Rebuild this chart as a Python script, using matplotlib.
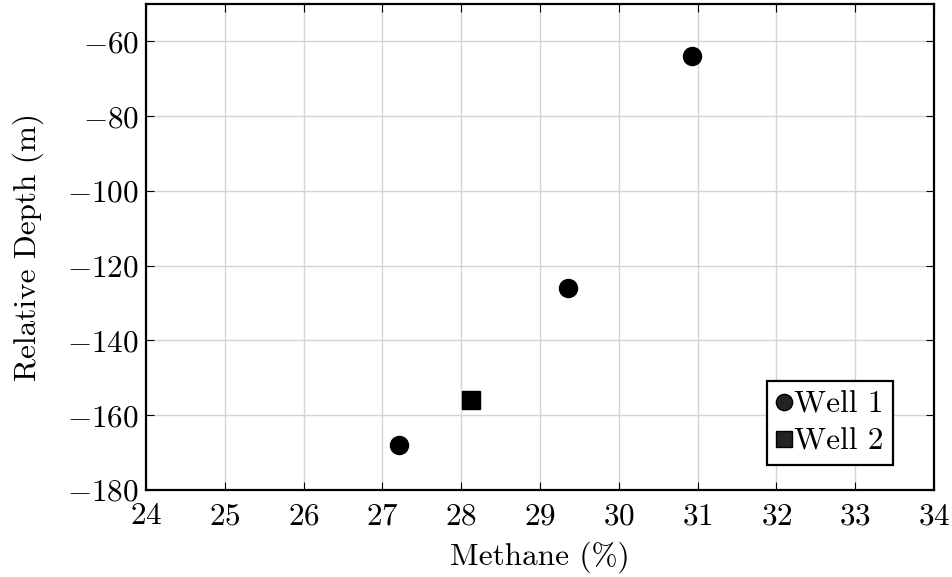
import matplotlib
matplotlib.use('Agg')
import matplotlib.pyplot as plt

# data
well1_methane = [27.21, 29.35, 30.93]
well1_depth = [-168, -126, -64]
well2_methane = [28.12]
well2_depth = [-156]

xticks = list(range(24, 35))
yticks = [-180, -160, -140, -120, -100, -80, -60]

plt.rcParams['font.family'] = 'serif'
plt.rcParams['font.serif'] = ['cmr10']
plt.rcParams['mathtext.fontset'] = 'cm'
plt.rcParams['axes.formatter.use_mathtext'] = True

fig = plt.figure(figsize=(9.52, 5.77), dpi=100)
ax = fig.add_axes([146/952, 87/577, 788/952, 486/577])

ax.plot(well1_methane, well1_depth, 'o', color='black', markersize=13, label='Well 1', zorder=3)
ax.plot(well2_methane, well2_depth, 's', color='black', markersize=12.5, label='Well 2', zorder=3)

ax.set_xlim(24, 34)
ax.set_ylim(-180, -50)
ax.set_xticks(xticks)
ax.set_yticks(yticks)
ax.grid(True, color='#d4d4d4', linewidth=1)
ax.set_axisbelow(True)
for s in ax.spines.values():
    s.set_linewidth(1.6)
ax.tick_params(axis='both', which='major', labelsize=22.5, direction='in', length=6,
               width=0.8, top=True, right=True, pad=5)
ax.tick_params(axis='x', pad=9)

ax.set_xlabel('Methane (%)', fontsize=22.5, labelpad=8)
ax.set_ylabel('Relative Depth (m)', fontsize=22.5, labelpad=17)

leg = ax.legend(loc='lower right', fontsize=22.5, frameon=True, fancybox=False,
                edgecolor='black', framealpha=1, handlelength=0.5, handletextpad=0.08,
                borderpad=0.3, labelspacing=0.3, markerscale=0.9, borderaxespad=0,
                bbox_to_anchor=(0.948, 0.051))
leg.get_frame().set_linewidth(1.6)
for h in leg.legend_handles:
    h.set_markerfacecolor('#222222')
    h.set_markeredgecolor('black')

fig.savefig('out.png', dpi=100)
